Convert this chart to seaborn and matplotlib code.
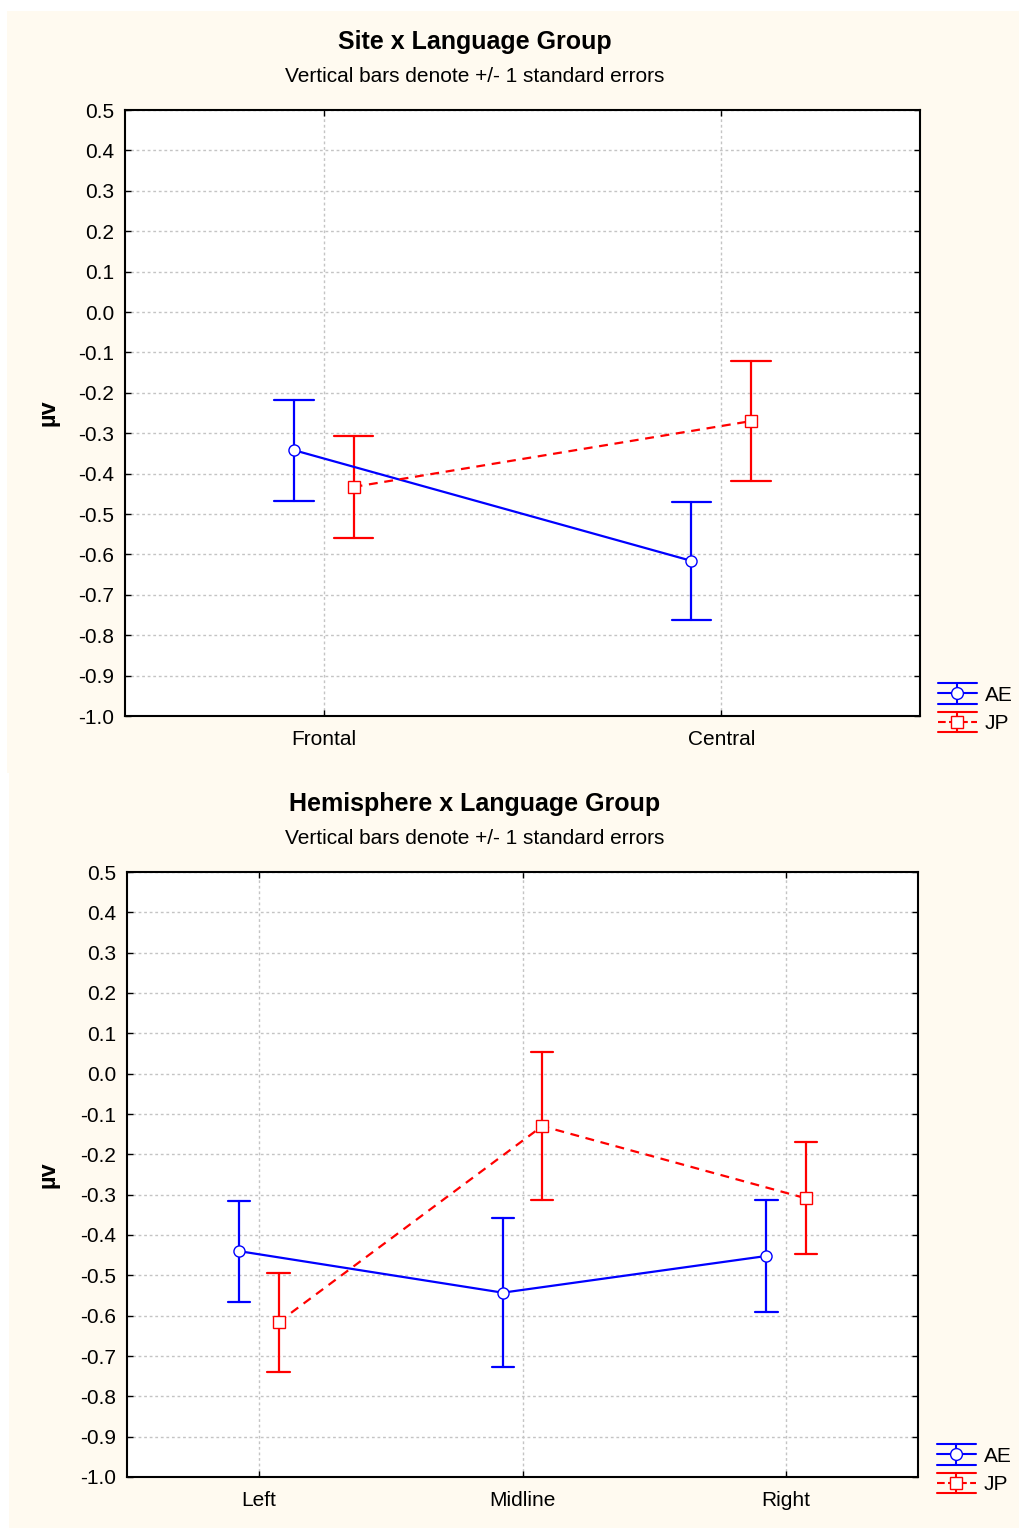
import numpy as np
import pandas as pd
import matplotlib
matplotlib.use("Agg")
import matplotlib.pyplot as plt
from matplotlib.patches import Rectangle
from matplotlib.lines import Line2D
from matplotlib.legend_handler import HandlerBase
import seaborn as sns

# ---- data: group means (µV) and standard errors ----
groups = ["AE", "JP"]
group_colors = ["#0000FF", "#FF0000"]

sites = ["Frontal", "Central"]
site_ae_mean = [-0.342, -0.616]
site_ae_se = [0.125, 0.146]
site_jp_mean = [-0.433, -0.270]
site_jp_se = [0.126, 0.148]

hemispheres = ["Left", "Midline", "Right"]
hemi_ae_mean = [-0.440, -0.543, -0.452]
hemi_ae_se = [0.125, 0.185, 0.140]
hemi_jp_mean = [-0.616, -0.130, -0.309]
hemi_jp_se = [0.123, 0.184, 0.139]

panel_titles = ["Site x Language Group", "Hemisphere x Language Group"]
subtitle = "Vertical bars denote +/- 1 standard errors"
y_label = "µv"
y_min, y_max, y_step = -1.0, 0.5, 0.1

# ---- style ----
sns.set_style("white")
plt.rcParams["font.family"] = ["Liberation Sans", "DejaVu Sans"]
plt.rcParams["axes.unicode_minus"] = False
plt.rcParams["text.color"] = "black"
plt.rcParams["xtick.color"] = "black"
plt.rcParams["ytick.color"] = "black"
plt.rcParams["axes.labelcolor"] = "black"

W, H, DPI = 1019, 1530, 100
fig = plt.figure(figsize=(W / DPI, H / DPI), dpi=DPI, facecolor="white")

cream = "#FFFAF0"
fig.patches.append(Rectangle((7 / W, 1 - 773 / H), 1 - 7 / W, (773 - 11) / H,
                             transform=fig.transFigure, facecolor=cream,
                             edgecolor="none", zorder=-10))
fig.patches.append(Rectangle((9 / W, 1 - 1528 / H), 1 - 9 / W, (1528 - 773) / H,
                             transform=fig.transFigure, facecolor=cream,
                             edgecolor="none", zorder=-10))


def summary_frame(factor, levels, means, ses):
    """Each cell holds its mean and the two ends of its +/- 1 SE bar."""
    rows = []
    for g, m_list, s_list in zip(groups, means, ses):
        for lvl, m, s in zip(levels, m_list, s_list):
            for v in (m, m - s, m + s):
                rows.append({factor: lvl, "Group": g, "uV": v})
    return pd.DataFrame(rows)


class ErrorbarKey(HandlerBase):
    """Legend key: line with marker, crossed by a capped vertical bar."""

    def create_artists(self, legend, orig_handle, xdescent, ydescent,
                       width, height, fontsize, trans):
        x0 = -xdescent
        x1 = x0 + width
        xc = (x0 + x1) / 2
        y0 = -ydescent - 0.1 * height
        y1 = -ydescent + 1.1 * height
        yc = (y0 + y1) / 2
        c = orig_handle.get_color()
        arts = [
            Line2D([x0, x1], [y0, y0], color=c, lw=1.5),
            Line2D([x0, x1], [y1, y1], color=c, lw=1.5),
            Line2D([xc, xc], [y0, y1], color=c, lw=1.5),
            Line2D([x0, x1], [yc, yc], color=c, lw=1.5,
                   linestyle=orig_handle.get_linestyle()),
            Line2D([xc], [yc], marker=orig_handle.get_marker(), markersize=8.5,
                   markerfacecolor="white", markeredgecolor=c,
                   markeredgewidth=1, linestyle="None"),
        ]
        for a in arts:
            a.set_transform(trans)
        return arts


def draw_panel(rect, factor, levels, means, ses, capsize, title, title_y, ylab_y, legend_xy):
    ax = fig.add_axes(rect)
    ax.set_facecolor("white")
    df = summary_frame(factor, levels, means, ses)
    sns.pointplot(data=df, x=factor, y="uV", hue="Group", order=levels,
                  hue_order=groups, palette=group_colors,
                  estimator="median", errorbar=lambda v: (v.min(), v.max()),
                  dodge=0.15, markers=["o", "s"], linestyles=["-", "--"],
                  capsize=capsize, err_kws={"linewidth": 1.6},
                  linewidth=1.6, markersize=8, markeredgewidth=1,
                  legend=False, ax=ax)
    for ln in ax.lines:
        if ln.get_marker() not in (None, "None", "", " "):
            ln.set_markerfacecolor("white")
            ln.set_zorder(4)
            if ln.get_linestyle() == "--":
                ln.set_dashes((4, 3))

    ax.set_xlim(-0.5, len(levels) - 0.5)
    ax.set_ylim(y_min, y_max)
    ticks = np.linspace(y_min, y_max, int(round((y_max - y_min) / y_step)) + 1)
    ax.set_yticks(ticks)
    ax.set_yticklabels([f"{t:.1f}" for t in ticks])
    ax.set_xlabel("")
    ax.set_ylabel("")
    ax.grid(True, color="#c4c4c4", linestyle=(0, (2, 2)), linewidth=1)
    ax.set_axisbelow(True)
    for sp in ax.spines.values():
        sp.set_visible(True)
        sp.set_color("black")
        sp.set_linewidth(1.5)
    ax.tick_params(axis="y", direction="in", left=True, right=True,
                   length=4, width=1, labelsize=15, pad=8, colors="black")
    ax.tick_params(axis="x", direction="in", bottom=True, top=True,
                   length=4, width=1, labelsize=15, pad=10, colors="black")

    fig.text(475 / W, title_y, title, ha="center", va="center",
             fontsize=18, fontweight="bold")
    fig.text(475 / W, title_y - 34 / H, subtitle, ha="center", va="center",
             fontsize=15)
    fig.text(48 / W, ylab_y, y_label, ha="center", va="center",
             rotation=90, fontsize=17, fontweight="bold")

    proxies = [Line2D([], [], color=c, marker=m, linestyle=ls)
               for c, m, ls in zip(group_colors, ["o", "s"], ["-", "--"])]
    ax.legend(handles=proxies, labels=groups,
              handler_map={Line2D: ErrorbarKey()},
              loc="center left", bbox_to_anchor=legend_xy, frameon=False,
              fontsize=15, handlelength=1.85, handleheight=0.9,
              labelspacing=0.42, handletextpad=0.4, borderpad=0,
              borderaxespad=0)
    return ax


draw_panel([125 / W, 1 - 716 / H, 795 / W, 606 / H], "Site", sites,
           [site_ae_mean, site_jp_mean], [site_ae_se, site_jp_se],
           capsize=0.10, title=panel_titles[0], title_y=1 - 42 / H,
           ylab_y=1 - 413 / H, legend_xy=(1.0226, 0.0116))

draw_panel([127 / W, 1 - 1477 / H, 791 / W, 605 / H], "Hemisphere", hemispheres,
           [hemi_ae_mean, hemi_jp_mean], [hemi_ae_se, hemi_jp_se],
           capsize=0.085, title=panel_titles[1], title_y=1 - 804 / H,
           ylab_y=1 - 1175 / H, legend_xy=(1.024, 0.0116))

fig.savefig("out.png", dpi=DPI, facecolor="white")
